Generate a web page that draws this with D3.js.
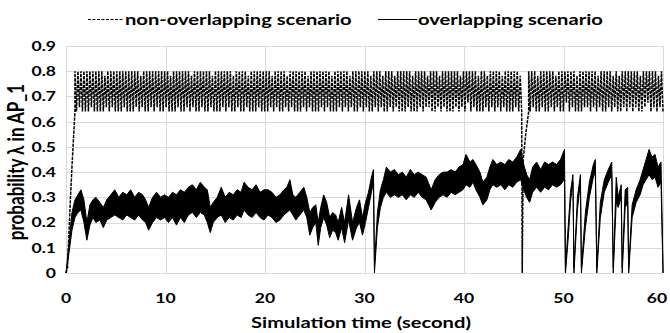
<!DOCTYPE html>
<html>
<head>
<meta charset="utf-8">
<script src="https://cdn.jsdelivr.net/npm/d3@7"></script>
<style>
  body { margin: 0; background: #fff; }
  text { font-family: Lato, "Open Sans", sans-serif; font-weight: bold; fill: #000; }
</style>
</head>
<body>
<div id="chart"></div>
<script>
// ---- data ----
const xTicks = [0, 10, 20, 30, 40, 50, 60];
const yTicks = [0, 0.1, 0.2, 0.3, 0.4, 0.5, 0.6, 0.7, 0.8, 0.9];
const legendLabels = ['non-overlapping scenario', 'overlapping scenario'];

// non-overlapping scenario: ramp at start and the drop near 46 s, [time, value]
const nonOverlapRamp = [[0, 0], [0.15, 0.02], [0.3, 0.16], [0.45, 0.3], [0.6, 0.42], [0.75, 0.53], [0.9, 0.64]];
const nonOverlapDrop = [[45.85, 0], [45.95, 0.45], [46.2, 0.55], [46.5, 0.64]];

// the fast oscillation between 0.64 and 0.80, one digit per sample (0 = low, 9 = high)
const bandLow = 0.64;
const bandHigh = 0.80;
const band1Span = [0.9, 45.8];
const band1Levels =
  '909190909091909090908190919090909190909091908190909190919090' +
  '919080909190909190819090919090918090909190919080919090918090' +
  '909190909091809190909180919090909190819090909190919080909190' +
  '919081909091909190809190918090919081909090919080909190918190' +
  '909180919090909190819092909190809091809190919081909090919080';
const band2Span = [46.5, 60];
const band2Levels =
  '909190809190909190819090929091908090919190919081909091908190' +
  '809190919091908091929091908190';

// overlapping scenario: [time, low edge, high edge] of the noisy trace
const overlap = [
  [0, 0, 0], [0.3, 0.08, 0.12], [0.6, 0.17, 0.24], [0.9, 0.22, 0.29], [1.2, 0.24, 0.31],
  [1.5, 0.25, 0.33], [1.8, 0.2, 0.29], [2.1, 0.13, 0.2], [2.4, 0.19, 0.27], [2.7, 0.22, 0.29],
  [3.0, 0.2, 0.3], [3.4, 0.21, 0.28], [3.75, 0.18, 0.26], [4.1, 0.21, 0.29], [4.5, 0.22, 0.31],
  [4.9, 0.23, 0.33], [5.3, 0.22, 0.3], [5.7, 0.21, 0.32], [6.1, 0.23, 0.31], [6.5, 0.22, 0.33],
  [6.9, 0.21, 0.3], [7.3, 0.23, 0.32], [7.7, 0.21, 0.31], [8.0, 0.2, 0.29], [8.3, 0.17, 0.26],
  [8.7, 0.2, 0.3], [9.1, 0.22, 0.32], [9.5, 0.21, 0.3], [9.9, 0.22, 0.31], [10.3, 0.2, 0.3],
  [10.7, 0.22, 0.32], [11.1, 0.19, 0.31], [11.5, 0.22, 0.33], [11.9, 0.2, 0.32], [12.3, 0.23, 0.34],
  [12.7, 0.24, 0.35], [13.1, 0.22, 0.33], [13.5, 0.24, 0.36], [13.9, 0.23, 0.34], [14.2, 0.2, 0.33],
  [14.5, 0.16, 0.26], [14.8, 0.2, 0.28], [15.2, 0.22, 0.3], [15.6, 0.23, 0.34], [16.0, 0.2, 0.3],
  [16.4, 0.22, 0.32], [16.8, 0.21, 0.31], [17.2, 0.23, 0.33], [17.6, 0.22, 0.32], [17.9, 0.25, 0.36],
  [18.3, 0.23, 0.34], [18.7, 0.22, 0.33], [19.1, 0.24, 0.35], [19.5, 0.22, 0.32], [19.9, 0.21, 0.33],
  [20.3, 0.23, 0.33], [20.7, 0.22, 0.32], [21.1, 0.2, 0.3], [21.5, 0.21, 0.31], [21.9, 0.23, 0.33],
  [22.2, 0.24, 0.34], [22.5, 0.25, 0.37], [22.8, 0.23, 0.31], [23.1, 0.21, 0.3], [23.5, 0.23, 0.32],
  [23.9, 0.25, 0.34], [24.2, 0.22, 0.3], [24.5, 0.15, 0.24], [24.8, 0.18, 0.26], [25.1, 0.2, 0.27],
  [25.35, 0.11, 0.2], [25.6, 0.18, 0.26], [25.9, 0.22, 0.31], [26.2, 0.19, 0.28], [26.5, 0.14, 0.22],
  [26.8, 0.17, 0.24], [27.1, 0.16, 0.23], [27.35, 0.13, 0.2], [27.7, 0.18, 0.26], [28.0, 0.12, 0.2],
  [28.4, 0.21, 0.31], [28.8, 0.13, 0.2], [29.2, 0.18, 0.26], [29.5, 0.2, 0.29], [29.8, 0.15, 0.22],
  [30.1, 0.2, 0.28], [30.4, 0.26, 0.32], [30.7, 0.32, 0.38], [30.9, 0.36, 0.41], [31.0, 0, 0.03],
  [31.3, 0.18, 0.24], [31.6, 0.26, 0.33], [31.9, 0.3, 0.37], [32.2, 0.32, 0.42], [32.6, 0.3, 0.4],
  [33.0, 0.31, 0.41], [33.4, 0.3, 0.39], [33.8, 0.31, 0.4], [34.2, 0.29, 0.38], [34.6, 0.31, 0.41],
  [35.0, 0.3, 0.39], [35.4, 0.32, 0.4], [35.8, 0.3, 0.39], [36.2, 0.29, 0.38], [36.7, 0.25, 0.33],
  [37.1, 0.28, 0.37], [37.5, 0.3, 0.39], [37.9, 0.31, 0.4], [38.3, 0.3, 0.4], [38.7, 0.32, 0.41],
  [39.1, 0.31, 0.4], [39.5, 0.32, 0.42], [39.9, 0.33, 0.43], [40.2, 0.35, 0.47], [40.6, 0.34, 0.44],
  [40.9, 0.36, 0.45], [41.2, 0.33, 0.43], [41.6, 0.3, 0.4], [41.9, 0.27, 0.36], [42.3, 0.29, 0.38],
  [42.6, 0.33, 0.42], [42.9, 0.35, 0.45], [43.3, 0.34, 0.43], [43.7, 0.35, 0.44], [44.1, 0.33, 0.43],
  [44.5, 0.35, 0.45], [44.9, 0.34, 0.44], [45.3, 0.36, 0.46], [45.7, 0.37, 0.49], [46.0, 0.33, 0.43],
  [46.3, 0.3, 0.39], [46.6, 0.28, 0.37], [46.9, 0.32, 0.42], [47.3, 0.34, 0.44], [47.7, 0.32, 0.41],
  [48.1, 0.34, 0.44], [48.5, 0.33, 0.43], [48.9, 0.35, 0.44], [49.3, 0.34, 0.43], [49.7, 0.35, 0.45],
  [50.1, 0.37, 0.49], [50.2, 0, 0.02], [50.5, 0.15, 0.2], [50.7, 0.28, 0.32], [50.95, 0.36, 0.39],
  [51.05, 0, 0.02], [51.4, 0.25, 0.3], [51.7, 0.36, 0.39], [51.8, 0, 0.02], [52.2, 0.18, 0.24],
  [52.6, 0.3, 0.36], [53.0, 0.38, 0.43], [53.2, 0.4, 0.45], [53.35, 0, 0.02], [53.7, 0.22, 0.28],
  [54.1, 0.32, 0.37], [54.5, 0.36, 0.41], [54.85, 0.39, 0.44], [55.0, 0, 0.02], [55.3, 0.28, 0.38],
  [55.5, 0.26, 0.3], [55.8, 0.3, 0.35], [55.9, 0, 0.02], [56.2, 0.26, 0.33], [56.45, 0.28, 0.34],
  [56.55, 0, 0.02], [56.9, 0.22, 0.27], [57.3, 0.28, 0.33], [57.7, 0.31, 0.37], [58.0, 0.35, 0.41],
  [58.3, 0.37, 0.45], [58.6, 0.39, 0.49], [58.9, 0.37, 0.46], [59.2, 0.38, 0.47], [59.5, 0.34, 0.42],
  [59.8, 0.36, 0.44], [60.0, 0, 0.02]
];

// ---- layout ----
const width = 670, height = 333;
const stretch = 1.3; // the reference text is drawn wide

const svg = d3.select('#chart').append('svg')
  .attr('width', width)
  .attr('height', height);

const x = d3.scaleLinear().domain([0, 60]).range([66, 663]);
const y = d3.scaleLinear().domain([0, 0.9]).range([273, 46]);

// grid
svg.append('g').selectAll('line.h').data(yTicks).join('line')
  .attr('x1', x(0)).attr('x2', x(60))
  .attr('y1', d => Math.round(y(d)) + 0.5).attr('y2', d => Math.round(y(d)) + 0.5)
  .attr('stroke', '#d9d9d9');
svg.append('g').selectAll('line.v').data(xTicks).join('line')
  .attr('y1', y(0)).attr('y2', y(0.9))
  .attr('x1', d => Math.round(x(d)) + 0.5).attr('x2', d => Math.round(x(d)) + 0.5)
  .attr('stroke', '#d9d9d9');

// tick labels
svg.append('g').selectAll('text').data(yTicks).join('text')
  .attr('transform', d => `translate(56,${y(d)}) scale(${stretch},1)`)
  .attr('dy', '0.36em')
  .attr('text-anchor', 'end')
  .style('font-size', '13.5px')
  .text(d => d === 0 ? '0' : d.toFixed(1));
svg.append('g').selectAll('text').data(xTicks).join('text')
  .attr('transform', d => `translate(${Math.min(x(d), 657)},303) scale(${stretch},1)`)
  .attr('text-anchor', 'middle')
  .style('font-size', '13.5px')
  .text(d => d);

// axis titles
svg.append('text')
  .attr('transform', `translate(361,328) scale(${stretch},1)`)
  .attr('text-anchor', 'middle')
  .style('font-size', '15.5px')
  .text('Simulation time (second)');
svg.append('text')
  .attr('transform', `translate(24,162) rotate(-90) scale(1,${stretch})`)
  .attr('text-anchor', 'middle')
  .style('font-size', '17px')
  .text('probability λ in AP_1');

// build the non-overlapping series from the ramp, drop and band samples
function bandPoints(span, levels) {
  const n = levels.length;
  const step = (span[1] - span[0]) / (n - 1);
  return Array.from(levels, (c, i) => [span[0] + i * step, bandLow + (+c / 9) * (bandHigh - bandLow)]);
}
const nonOverlap = nonOverlapRamp
  .concat(bandPoints(band1Span, band1Levels))
  .concat(nonOverlapDrop)
  .concat(bandPoints(band2Span, band2Levels));

// overlapping scenario (noisy solid trace)
svg.append('path')
  .datum(overlap)
  .attr('d', d3.area().x(d => x(d[0])).y0(d => y(d[1])).y1(d => y(d[2])))
  .attr('fill', '#000')
  .attr('stroke', '#000')
  .attr('stroke-width', 1)
  .attr('stroke-linejoin', 'round');

// non-overlapping scenario (dashed)
svg.append('path')
  .datum(nonOverlap)
  .attr('d', d3.line().x(d => x(d[0])).y(d => y(d[1])))
  .attr('fill', 'none')
  .attr('stroke', '#000')
  .attr('stroke-width', 1.5)
  .attr('stroke-dasharray', '3.3,1.06');

// legend
const legend = svg.append('g');
legend.append('line')
  .attr('x1', 88).attr('x2', 123).attr('y1', 19.5).attr('y2', 19.5)
  .attr('stroke', '#000').attr('stroke-width', 1).attr('stroke-dasharray', '3,1.5');
legend.append('text')
  .attr('transform', `translate(125,25) scale(${stretch},1)`)
  .style('font-size', '15.5px')
  .text(legendLabels[0]);
legend.append('line')
  .attr('x1', 378).attr('x2', 417).attr('y1', 19.5).attr('y2', 19.5)
  .attr('stroke', '#000').attr('stroke-width', 1);
legend.append('text')
  .attr('transform', `translate(418,25) scale(${stretch},1)`)
  .style('font-size', '15.5px')
  .text(legendLabels[1]);
</script>
</body>
</html>
